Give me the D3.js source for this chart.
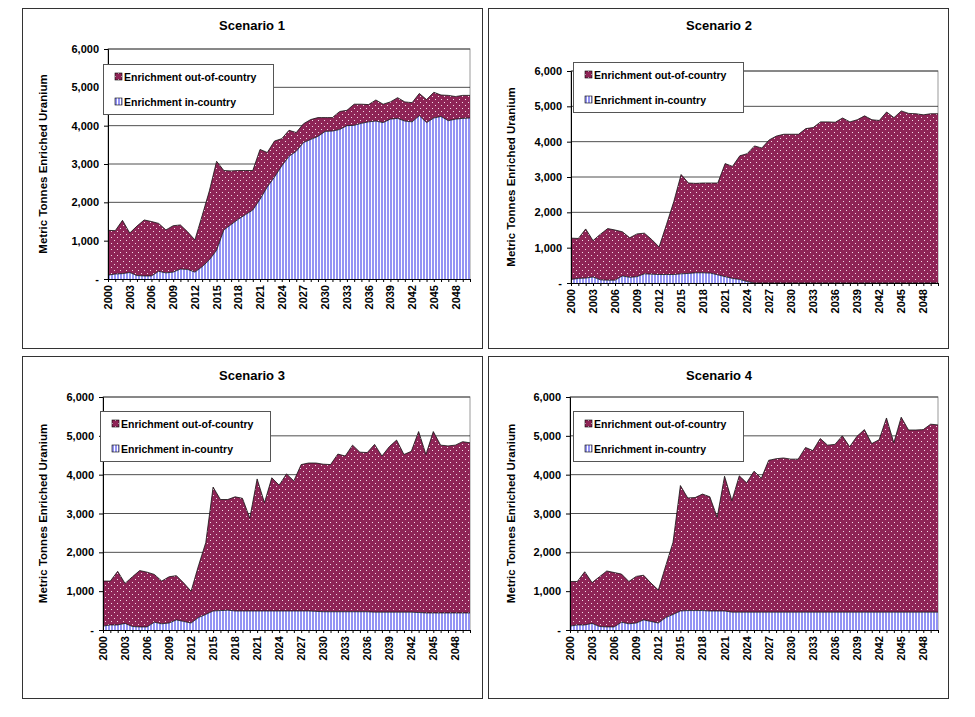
<!DOCTYPE html>
<html><head><meta charset="utf-8">
<script src="https://cdn.jsdelivr.net/npm/d3@7"></script>
<style>body{margin:0;background:#fff}svg{display:block;font-family:"Liberation Sans",Arial,sans-serif}</style>
</head><body><svg id="c" width="975" height="717"></svg>
<script>
var years = d3.range(2000, 2051);
var yTicks = [0, 1000, 2000, 3000, 4000, 5000, 6000];
var seriesNames = ["Enrichment out-of-country", "Enrichment in-country"];

// totals (top of stack) and in-country values
var total12 = [1270,1260,1530,1200,1380,1540,1500,1450,1280,1390,1410,1230,1020,1650,2300,3070,2830,2820,2830,2830,2830,3380,3300,3600,3660,3880,3820,4050,4160,4210,4210,4210,4370,4400,4560,4560,4550,4670,4560,4620,4730,4620,4600,4840,4680,4870,4800,4790,4760,4790,4790];
var in1 = [100,130,140,170,90,80,80,200,160,180,260,250,180,320,500,750,1280,1420,1560,1680,1800,2080,2400,2660,2950,3200,3330,3560,3640,3720,3850,3860,3900,4000,4010,4060,4100,4120,4080,4170,4190,4120,4100,4260,4080,4200,4240,4130,4170,4190,4200];
var in2 = [100,130,140,170,90,80,80,200,160,180,260,250,240,240,240,260,270,290,290,280,230,180,130,100,40,0,0,0,0,0,0,0,0,0,0,0,0,0,0,0,0,0,0,0,0,0,0,0,0,0,0];
var total3 = [1260,1260,1510,1200,1370,1530,1490,1430,1260,1370,1400,1210,1000,1650,2250,3680,3360,3360,3430,3390,2880,3890,3280,3920,3730,4020,3840,4260,4300,4300,4270,4260,4530,4480,4760,4580,4570,4780,4480,4720,4890,4520,4600,5110,4520,5110,4760,4740,4760,4850,4820];
var in3 = [100,130,130,170,90,80,80,200,160,180,260,220,180,320,400,490,500,510,490,490,490,490,490,490,490,490,490,490,490,480,470,470,470,470,470,470,470,460,460,460,460,460,460,450,440,440,440,440,440,440,440];
var total4 = [1250,1250,1500,1220,1370,1520,1480,1440,1250,1380,1410,1210,1030,1650,2260,3720,3400,3410,3500,3430,2900,3960,3330,3970,3790,4090,3910,4370,4410,4430,4400,4400,4700,4620,4930,4760,4780,5000,4720,4990,5160,4800,4900,5460,4820,5480,5150,5150,5160,5300,5280];
var in4 = [100,130,130,170,90,80,80,200,160,180,260,220,180,320,400,490,500,500,500,490,490,490,460,460,460,460,460,460,460,460,460,460,460,460,460,460,460,460,460,460,460,460,460,460,460,460,460,460,460,460,460];

var panels = [
  {title:"Scenario 1", total:total12, inc:in1, box:[22,8,482,348], plot:[108,49,470,279], leg:[103,64], tx:252, ty:30, yx:43},
  {title:"Scenario 2", total:total12, inc:in2, box:[488,8,948,348], plot:[571,71,938,283], leg:[573,62], tx:719, ty:30, yx:511},
  {title:"Scenario 3", total:total3, inc:in3, box:[22,356,482,698], plot:[103,397,470,630], leg:[100,411], tx:252, ty:380, yx:43},
  {title:"Scenario 4", total:total4, inc:in4, box:[488,356,948,698], plot:[570,397,938,630], leg:[573,411], tx:719, ty:380, yx:511}
];

var svg = d3.select("#c");
var defs = svg.append("defs");
var dots = defs.append("pattern").attr("id","dots").attr("patternUnits","userSpaceOnUse").attr("width",6).attr("height",6);
dots.append("rect").attr("width",6).attr("height",6).attr("fill","#8e2456");
dots.append("rect").attr("x",0).attr("y",0).attr("width",1).attr("height",1).attr("fill","#f4dbe6");
dots.append("rect").attr("x",3).attr("y",3).attr("width",1).attr("height",1).attr("fill","#f4dbe6");
var stripes = defs.append("pattern").attr("id","stripes").attr("patternUnits","userSpaceOnUse").attr("width",3).attr("height",3);
stripes.append("rect").attr("width",3).attr("height",3).attr("fill","#ffffff");
stripes.append("rect").attr("width",2).attr("height",3).attr("fill","#9494f4");
var fills = ["url(#dots)", "url(#stripes)"];

panels.forEach(function(p) {
  var g = svg.append("g");
  g.append("rect").attr("x",p.box[0]+.5).attr("y",p.box[1]+.5).attr("width",p.box[2]-p.box[0]).attr("height",p.box[3]-p.box[1])
    .attr("fill","#fff").attr("stroke","#333").attr("stroke-width",1);

  var x = d3.scaleLinear().domain([2000, 2050]).range([p.plot[0], p.plot[2]]);
  var y = d3.scaleLinear().domain([0, 6000]).range([p.plot[3], p.plot[1]]);

  g.append("rect").attr("x",p.plot[0]).attr("y",p.plot[1]).attr("width",p.plot[2]-p.plot[0]).attr("height",p.plot[3]-p.plot[1])
    .attr("fill","#fff").attr("stroke","#999");

  g.append("g").selectAll("line").data(yTicks.slice(1)).join("line")
    .attr("x1",p.plot[0]).attr("x2",p.plot[2]).attr("y1",d=>y(d)).attr("y2",d=>y(d)).attr("stroke","#222").attr("stroke-width",0.8);

  var rows = years.map((yr,i) => ({year:yr, inc:p.inc[i], out:p.total[i]-p.inc[i]}));
  var stack = d3.stack().keys(["inc","out"])(rows);
  var area = d3.area().x(d=>x(d.data.year)).y0(d=>y(d[0])).y1(d=>y(d[1]));
  var line = d3.line().x(d=>x(d.data.year)).y(d=>y(d[1]));
  // out-of-country first (index 1), then in-country on top
  g.append("path").attr("d",area(stack[1])).attr("fill",fills[0]);
  g.append("path").attr("d",area(stack[0])).attr("fill",fills[1]);
  g.append("path").attr("d",line(stack[1])).attr("fill","none").attr("stroke","#111").attr("stroke-width",0.8);
  g.append("path").attr("d",line(stack[0])).attr("fill","none").attr("stroke","#111").attr("stroke-width",0.8);

  var ya = g.append("g").attr("transform","translate("+p.plot[0]+",0)")
    .call(d3.axisLeft(y).tickValues(yTicks).tickSize(4).tickFormat(d => d === 0 ? "-" : d3.format(",")(d)));
  ya.select(".domain").attr("stroke","#000");
  ya.selectAll("text").attr("font-size",11).attr("font-weight","bold").attr("fill","#000").attr("dx",-2);

  var xa = g.append("g").attr("transform","translate(0,"+p.plot[3]+")")
    .call(d3.axisBottom(x).tickValues(years).tickSize(3).tickFormat(""));
  xa.select(".domain").attr("stroke","#000");
  g.append("g").selectAll("text").data(years.filter(yr => (yr-2000)%3===0 && yr<2050)).join("text")
    .attr("transform", d => "translate("+(x(d)+4)+","+(p.plot[3]+6)+") rotate(-90)")
    .attr("text-anchor","end").attr("font-size",11).attr("font-weight","bold").text(d=>d);

  g.append("text").attr("x",p.tx).attr("y",p.ty).attr("text-anchor","middle").attr("font-size",13).attr("font-weight","bold").text(p.title);
  g.append("text").attr("transform","translate("+p.yx+","+((p.plot[1]+p.plot[3])/2)+") rotate(-90)")
    .attr("text-anchor","middle").attr("dy","0.35em").attr("font-size",11.5).attr("font-weight","bold").text("Metric Tonnes Enriched Uranium");

  var lg = g.append("g").attr("transform","translate("+p.leg[0]+","+p.leg[1]+")");
  lg.append("rect").attr("x",.5).attr("y",.5).attr("width",170).attr("height",50).attr("fill","#fff").attr("stroke","#555");
  seriesNames.forEach(function(n, i) {
    var yy = 13 + i*25;
    lg.append("rect").attr("x",12).attr("y",yy-4).attr("width",7).attr("height",7).attr("fill",fills[i]).attr("stroke","#000").attr("stroke-width",0.6);
    lg.append("text").attr("x",21).attr("y",yy).attr("dy","0.35em").attr("font-size",10.5).attr("font-weight","bold").text(n);
  });
});
</script></body></html>
